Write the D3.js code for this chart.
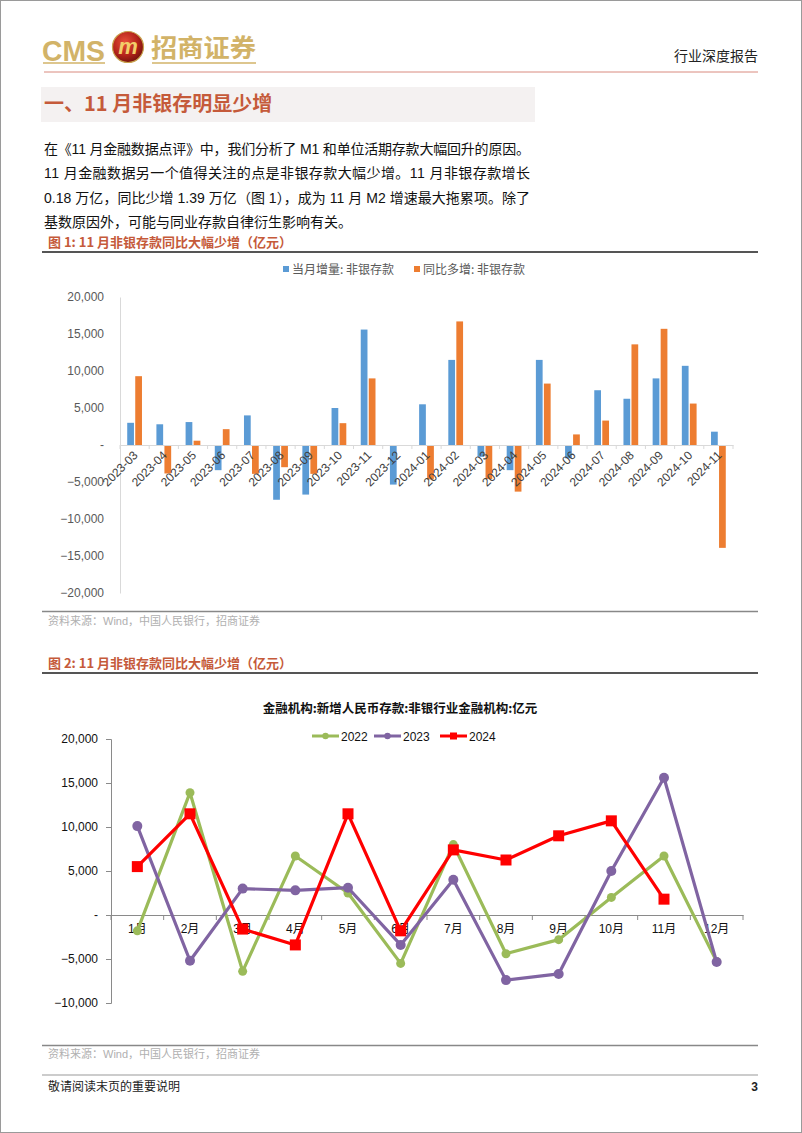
<!DOCTYPE html>
<html><head><meta charset="utf-8">
<script src="https://cdn.jsdelivr.net/npm/d3@7"></script>
<style>body{margin:0;background:#fff}svg{display:block}</style>
</head><body>
<script>
// ---------- DATA ----------
const barCategories = ["2023-03","2023-04","2023-05","2023-06","2023-07","2023-08","2023-09","2023-10","2023-11","2023-12","2024-01","2024-02","2024-03","2024-04","2024-05","2024-06","2024-07","2024-08","2024-09","2024-10","2024-11"];
const monthlyIncrease = [3000,2800,3100,-3400,4000,-7400,-6700,5000,15600,-5350,5500,11500,-1600,-3400,11500,-1800,7400,6250,9000,10700,1800];
const yoyChange = [9300,-3850,580,2140,-3900,-3000,-3900,2950,9000,0,-4650,16700,-4600,-6300,8300,1430,3300,13600,15700,5600,-13900];
const barSeriesNames = ["当月增量: 非银存款","同比多增: 非银存款"];
const barYTicks = [20000,15000,10000,5000,0,-5000,-10000,-15000,-20000];

const lineMonths = ["1月","2月","3月","4月","5月","6月","7月","8月","9月","10月","11月","12月"];
const s2022 = [-1800,13900,-6400,6700,2500,-5500,8000,-4400,-2800,2000,6700,-5300];
const s2023 = [10100,-5200,3000,2800,3100,-3400,4000,-7400,-6700,5000,15600,-5350];
const s2024 = [5500,11500,-1600,-3400,11500,-1800,7400,6250,9000,10700,1800];
const lineYTicks = [20000,15000,10000,5000,0,-5000,-10000];

const paraLines = [
 "在《11 月金融数据点评》中，我们分析了 M1 和单位活期存款大幅回升的原因。",
 "11 月金融数据另一个值得关注的点是非银存款大幅少增。11 月非银存款增长",
 "0.18 万亿，同比少增 1.39 万亿（图 1），成为 11 月 M2 增速最大拖累项。除了",
 "基数原因外，可能与同业存款自律衍生影响有关。"
];

// ---------- PAGE ----------
const W = 802, H = 1133;
const FONT = "'Liberation Sans', Arial, 'Noto Sans CJK SC', sans-serif";
const svg = d3.select("body").append("svg").attr("width", W).attr("height", H)
  .style("font-family", FONT);
svg.append("rect").attr("x",0.5).attr("y",0.5).attr("width",W-1).attr("height",H-1)
  .attr("fill","#fff").attr("stroke","#9a9a9a");

const gold = "#d2b368", accent = "#c55a3a";

// header logo
svg.append("text").attr("x",42).attr("y",61).text("CMS")
  .attr("font-size",29).attr("font-weight","bold").attr("fill",gold)
  .attr("font-family","'Liberation Sans Narrow','Liberation Sans',Arial")
  .attr("textLength",63).attr("lengthAdjust","spacingAndGlyphs");
const defs = svg.append("defs");
const rg = defs.append("radialGradient").attr("id","ball").attr("cx","40%").attr("cy","35%").attr("r","70%");
rg.append("stop").attr("offset","0%").attr("stop-color","#e8503a");
rg.append("stop").attr("offset","60%").attr("stop-color","#b3231a");
rg.append("stop").attr("offset","100%").attr("stop-color","#6e120c");
svg.append("circle").attr("cx",128).attr("cy",47).attr("r",15.5).attr("fill","url(#ball)").attr("stroke","#c9a24e").attr("stroke-width",1.2);
svg.append("text").attr("x",128).attr("y",54).attr("text-anchor","middle").text("m")
  .attr("font-size",22).attr("font-weight","bold").attr("font-style","italic").attr("fill","#f2cf6a");
svg.append("text").attr("x",151).attr("y",57).text("招商证券")
  .attr("font-size",25).attr("font-weight","bold").attr("fill",gold)
  .attr("font-family","'Noto Sans CJK SC'")
  .attr("textLength",105).attr("lengthAdjust","spacingAndGlyphs");
svg.append("line").attr("x1",43).attr("x2",105).attr("y1",63).attr("y2",63).attr("stroke",gold).attr("stroke-width",1.5);
svg.append("line").attr("x1",152).attr("x2",256).attr("y1",63).attr("y2",63).attr("stroke",gold).attr("stroke-width",1.5);
svg.append("text").attr("x",758).attr("y",61).attr("text-anchor","end").text("行业深度报告")
  .attr("font-size",14).attr("fill","#222").attr("font-family","'Noto Sans CJK SC'");
svg.append("line").attr("x1",44).attr("x2",758).attr("y1",72).attr("y2",72).attr("stroke","#d98a7e").attr("stroke-width",1);

// section title
svg.append("rect").attr("x",41).attr("y",87).attr("width",494).attr("height",35).attr("fill","#f4f1f1");
svg.append("text").attr("x",44).attr("y",111).text("一、11 月非银存明显少增")
  .attr("font-size",20).attr("font-weight","bold").attr("fill",accent).attr("font-family","'Noto Sans CJK SC'");

// paragraph
paraLines.forEach((t,i)=>{
  const tx = svg.append("text").attr("x",44).attr("y",154 + i*24.4).text(t)
    .attr("font-size",14).attr("fill","#111");
  if (i < 3) tx.attr("textLength",486).attr("lengthAdjust","spacing");
});

// captions / frames
function caption(y, t){
  svg.append("text").attr("x",48).attr("y",y).text(t)
    .attr("font-size",13).attr("font-weight","bold").attr("fill",accent).attr("font-family","'Noto Sans CJK SC'");
}
caption(247, "图 1:  11 月非银存款同比大幅少增（亿元）");
svg.append("line").attr("x1",42).attr("x2",758).attr("y1",252).attr("y2",252).attr("stroke","#555").attr("stroke-width",2);
svg.append("line").attr("x1",42).attr("x2",758).attr("y1",611.5).attr("y2",611.5).attr("stroke","#888").attr("stroke-width",1.5);
svg.append("text").attr("x",48).attr("y",625).text("资料来源：Wind，中国人民银行，招商证券").attr("font-size",11).attr("fill","#b0b0b0");

caption(668, "图 2:  11 月非银存款同比大幅少增（亿元）");
svg.append("line").attr("x1",42).attr("x2",758).attr("y1",673).attr("y2",673).attr("stroke","#555").attr("stroke-width",2);
svg.append("line").attr("x1",42).attr("x2",758).attr("y1",1045.5).attr("y2",1045.5).attr("stroke","#888").attr("stroke-width",1.5);
svg.append("text").attr("x",48).attr("y",1058).text("资料来源：Wind，中国人民银行，招商证券").attr("font-size",11).attr("fill","#b0b0b0");

svg.append("line").attr("x1",42).attr("x2",758).attr("y1",1075).attr("y2",1075).attr("stroke","#999").attr("stroke-width",1);
svg.append("text").attr("x",48).attr("y",1091).text("敬请阅读末页的重要说明").attr("font-size",12).attr("fill","#222").attr("font-family","'Noto Sans CJK SC'");
svg.append("text").attr("x",758).attr("y",1091).attr("text-anchor","end").text("3").attr("font-size",12).attr("font-weight","bold").attr("fill","#222");

// ---------- CHART 1: grouped bars ----------
{
  const x = d3.scaleBand().domain(barCategories).range([120, 733]).padding(0);
  const y = d3.scaleLinear().domain([-20000, 20000]).range([593, 297]);
  const x1 = d3.scaleBand().domain([0,1]).range([0, x.bandwidth()]).paddingInner(0.16).paddingOuter(0.9);
  const colors = ["#5b9bd5", "#ed7d31"];
  const g = svg.append("g");
  const fmt = v => v === 0 ? "-" : d3.format(",")(v);

  // y axis
  const ya = g.append("g").attr("transform","translate(120,0)")
    .call(d3.axisLeft(y).tickValues(barYTicks).tickFormat(fmt).tickSize(0).tickPadding(16));
  ya.select(".domain").attr("stroke","#d9d9d9");
  ya.selectAll("text").attr("font-size",12).attr("fill","#595959").attr("font-family",FONT);

  const series = [monthlyIncrease, yoyChange];
  series.forEach((vals, si) => {
    g.append("g").selectAll("rect").data(vals).join("rect")
      .attr("x",(d,i)=> x(barCategories[i]) + x1(si))
      .attr("width", x1.bandwidth())
      .attr("y", d => y(Math.max(0,d)))
      .attr("height", d => Math.abs(y(d) - y(0)))
      .attr("fill", colors[si]);
  });

  // x axis
  const xa = g.append("g").attr("transform",`translate(0,${y(0)})`)
    .call(d3.axisBottom(x).tickSize(0).tickFormat(""));
  xa.select(".domain").attr("stroke","#d9d9d9");
  g.append("g").selectAll("line").data(d3.range(barCategories.length+1)).join("line")
    .attr("x1", i => 120 + i*x.step()).attr("x2", i => 120 + i*x.step())
    .attr("y1", y(0)).attr("y2", y(0)+4).attr("stroke","#d9d9d9");
  g.append("g").selectAll("text").data(barCategories).join("text")
    .attr("transform", d => `translate(${x(d)+x.bandwidth()/2+4},${y(0)+11}) rotate(-45)`)
    .attr("text-anchor","end").text(d=>d)
    .attr("font-size",12).attr("fill","#404040");

  // legend
  const lg = g.append("g");
  barSeriesNames.forEach((n,i)=>{
    const lx = [283, 414][i];
    lg.append("rect").attr("x",lx).attr("y",266).attr("width",6).attr("height",6).attr("fill",colors[i]);
    lg.append("text").attr("x",lx+9).attr("y",274).text(n).attr("font-size",12).attr("fill","#595959")
      .attr("font-family","'Noto Sans CJK SC'");
  });
}

// ---------- CHART 2: lines ----------
{
  const x = d3.scaleBand().domain(lineMonths).range([111, 743]).padding(0);
  const y = d3.scaleLinear().domain([-10000, 20000]).range([1003, 739]);
  const g = svg.append("g");
  const fmt = v => v === 0 ? "-" : d3.format(",")(v);

  svg.append("text").attr("x",400).attr("y",713).attr("text-anchor","middle")
    .text("金融机构:新增人民币存款:非银行业金融机构:亿元")
    .attr("font-size",12.5).attr("font-weight","bold").attr("fill","#111").attr("font-family","'Noto Sans CJK SC'");

  const ya = g.append("g").attr("transform","translate(111,0)")
    .call(d3.axisLeft(y).tickValues(lineYTicks).tickFormat(fmt).tickSize(5).tickPadding(8));
  ya.select(".domain").attr("stroke","#8a8a8a");
  ya.selectAll(".tick line").attr("stroke","#8a8a8a");
  ya.selectAll("text").attr("font-size",12).attr("fill","#111").attr("font-family",FONT);

  const xa = g.append("g").attr("transform",`translate(0,${y(0)})`)
    .call(d3.axisBottom(x).tickSize(0).tickFormat(""));
  xa.select(".domain").attr("stroke","#8a8a8a");
  g.append("g").selectAll("line").data(d3.range(lineMonths.length+1)).join("line")
    .attr("x1", i => 111 + i*x.step()).attr("x2", i => 111 + i*x.step())
    .attr("y1", y(0)).attr("y2", y(0)+5).attr("stroke","#8a8a8a");
  g.append("g").selectAll("text").data(lineMonths).join("text")
    .attr("x", d => x(d)+x.bandwidth()/2).attr("y", y(0)+18)
    .attr("text-anchor","middle").text(d=>d).attr("font-size",12).attr("fill","#111");

  const cx = (d,i) => x(lineMonths[i]) + x.bandwidth()/2;
  const line = d3.line().x(cx).y(d => y(d));
  const defsS = [
    {name:"2022", vals:s2022, color:"#9bbb59", marker:"circle", r:4.5},
    {name:"2023", vals:s2023, color:"#8064a2", marker:"circle", r:5},
    {name:"2024", vals:s2024, color:"#ff0000", marker:"square", r:5.5}
  ];
  defsS.forEach(s=>{
    g.append("path").datum(s.vals).attr("d", line).attr("fill","none")
      .attr("stroke", s.color).attr("stroke-width",3.2).attr("stroke-linejoin","round");
    const mk = g.append("g");
    if (s.marker === "circle") {
      mk.selectAll("circle").data(s.vals).join("circle")
        .attr("cx", cx).attr("cy", d=>y(d)).attr("r", s.r).attr("fill", s.color);
    } else {
      mk.selectAll("rect").data(s.vals).join("rect")
        .attr("x", (d,i)=>cx(d,i)-s.r).attr("y", d=>y(d)-s.r)
        .attr("width", s.r*2).attr("height", s.r*2).attr("fill", s.color);
    }
  });

  // legend
  const lpos = [312, 374, 440];
  defsS.forEach((s,i)=>{
    const lx = lpos[i], ly = 736;
    g.append("line").attr("x1",lx).attr("x2",lx+27).attr("y1",ly).attr("y2",ly).attr("stroke",s.color).attr("stroke-width",3);
    if (s.marker === "circle") g.append("circle").attr("cx",lx+13.5).attr("cy",ly).attr("r",3.2).attr("fill",s.color);
    else g.append("rect").attr("x",lx+10).attr("y",ly-3.5).attr("width",7).attr("height",7).attr("fill",s.color);
    g.append("text").attr("x",lx+29).attr("y",ly+4.5).text(s.name).attr("font-size",12).attr("fill","#111");
  });
}
</script>
</body></html>
